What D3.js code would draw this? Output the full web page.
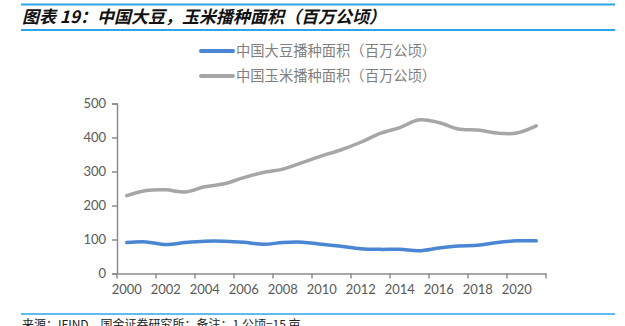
<!DOCTYPE html>
<html><head><meta charset="utf-8">
<script src="https://cdn.jsdelivr.net/npm/d3@7"></script>
<style>html,body{margin:0;padding:0;background:#fff;}svg{display:block;}</style>
</head><body>
<svg id="c" width="625" height="326"></svg>
<script>
const years = [2000,2001,2002,2003,2004,2005,2006,2007,2008,2009,2010,2011,2012,2013,2014,2015,2016,2017,2018,2019,2020,2021];
const soybean = [91,93,85,91,95,95,92,86,91,92,86,80,73,71,71,67,75,81,83,91,96,96];
const corn = [229,244,246,240,255,264,282,297,307,326,346,364,386,412,429,452,444,425,422,413,413,434];
const yTicks = [0,100,200,300,400,500];
const seriesNames = ["中国大豆播种面积（百万公顷）","中国玉米播种面积（百万公顷）"];
const seriesColors = ["#4a86d3","#a6a6a6"];
const title = "图表 19：中国大豆，玉米播种面积（百万公顷）";
const source = "来源：IFIND，国金证券研究所；备注：1 公顷=15 亩";

const svg = d3.select("#c");
const cjk = "'Noto Sans CJK SC', sans-serif";
const num = "Lato, 'Liberation Sans', sans-serif";

// title & rules
svg.append("line").attr("x1",21).attr("x2",615).attr("y1",4.5).attr("y2",4.5).attr("stroke","#2aa6e6").attr("stroke-width",2);
svg.append("line").attr("x1",21).attr("x2",615).attr("y1",30).attr("y2",30).attr("stroke","#2aa6e6").attr("stroke-width",2);
svg.append("text").attr("x",22).attr("y",23).attr("font-family",cjk).attr("font-size",17).attr("font-weight","bold").attr("font-style","italic").attr("fill","#111").text(title);
svg.append("line").attr("x1",21).attr("x2",615).attr("y1",314).attr("y2",314).attr("stroke","#2aa6e6").attr("stroke-width",1.5);
svg.append("text").attr("x",22).attr("y",329).attr("font-family",cjk).attr("font-size",12).attr("fill","#222").text(source);

const x = d3.scaleBand().domain(years).range([117,546]);
const y = d3.scaleLinear().domain([0,500]).range([273.5,103.5]);

// y axis
const ya = svg.append("g").attr("transform","translate(117,0)")
  .call(d3.axisLeft(y).tickValues(yTicks).tickSize(5).tickPadding(6));
ya.select(".domain").attr("stroke","#8c8c8c").attr("stroke-width",1.5);
ya.selectAll(".tick line").attr("stroke","#8c8c8c").attr("stroke-width",1.5);
ya.selectAll("text").attr("font-family",num).attr("font-size",13).attr("fill","#595959");

// x axis
const xa = svg.append("g").attr("transform","translate(0,273.5)")
  .call(d3.axisBottom(x).tickValues(years.filter((d,i)=>i%2===0)).tickSize(0).tickPadding(11).tickSizeOuter(0));
xa.select(".domain").attr("stroke","#8c8c8c").attr("stroke-width",1.5);
xa.selectAll("text").attr("font-family",num).attr("font-size",13).attr("fill","#595959");
const tickPos = years.filter((d,i)=>i%2===0).map(d=>x(d)).concat([x.range()[1]]);
xa.selectAll(".bt").data(tickPos).enter().append("line").attr("class","bt")
  .attr("x1",d=>d).attr("x2",d=>d).attr("y1",0).attr("y2",5).attr("stroke","#8c8c8c").attr("stroke-width",1.5);

// lines
const line = d3.line().x((d,i)=>x(years[i])+x.bandwidth()/2).y(d=>y(d)).curve(d3.curveCatmullRom.alpha(0.5));
[soybean,corn].forEach((s,k)=>{
  svg.append("path").datum(s).attr("d",line).attr("fill","none").attr("stroke",seriesColors[k]).attr("stroke-width",3.5).attr("stroke-linecap","round");
});

// legend
seriesNames.forEach((n,k)=>{
  const ly = 51 + k*25;
  svg.append("line").attr("x1",201).attr("x2",233).attr("y1",ly).attr("y2",ly).attr("stroke",seriesColors[k]).attr("stroke-width",4).attr("stroke-linecap","round");
  svg.append("text").attr("x",236).attr("y",ly+5).attr("font-family",cjk).attr("font-size",14.3).attr("fill","#7f7f7f").text(n);
});
</script>
</body></html>
